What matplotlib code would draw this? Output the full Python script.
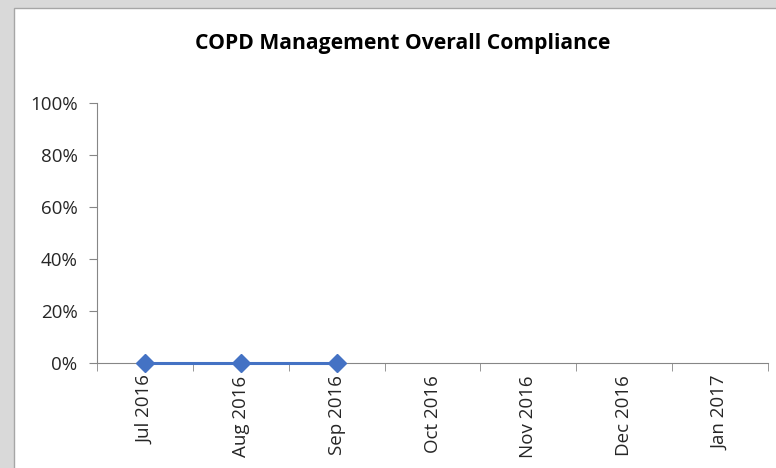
import matplotlib.pyplot as plt
import matplotlib.patches as mpatches
import numpy as np

months = ["Jul 2016", "Aug 2016", "Sep 2016", "Oct 2016", "Nov 2016", "Dec 2016", "Jan 2017"]
compliance = [0.0, 0.0, 0.0, np.nan, np.nan, np.nan, np.nan]
y_ticks = [0, 0.2, 0.4, 0.6, 0.8, 1.0]
y_labels = ["0%", "20%", "40%", "60%", "80%", "100%"]

plt.rcParams['font.family'] = ['Open Sans', 'DejaVu Sans']

fig = plt.figure(figsize=(7.76, 4.68), dpi=100, facecolor='#d9d9d9')
# white chart area with thin border
fig.patches.append(mpatches.Rectangle((14/776, -0.01), 1.0, 1 - 8/468 + 0.01,
                                      transform=fig.transFigure, facecolor='white',
                                      edgecolor='#a6a6a6', linewidth=1.0, zorder=-5))

ax = fig.add_axes([97/776, 1 - 363/468, 671/776, 260/468])
ax.set_zorder(2)
ax.patch.set_alpha(0)

x = np.arange(len(months))
ax.plot(x, compliance, color='#4472C4', linewidth=2.2, marker='D', markersize=9,
        markerfacecolor='#4472C4', markeredgecolor='#4472C4', clip_on=False, zorder=3)

ax.set_xlim(-0.5, len(months) - 0.5)
ax.set_ylim(0, 1)
ax.set_yticks(y_ticks)
ax.set_yticklabels(y_labels)
ax.set_xticks(x)
ax.set_xticklabels(months, rotation=90)
ax.set_xticks(np.arange(-0.5, len(months)), minor=True)

for s in ['top', 'right']:
    ax.spines[s].set_visible(False)
ax.spines['left'].set_color('#868686')
ax.spines['bottom'].set_color('#868686')

ax.tick_params(axis='y', length=6, color='#868686', labelsize=13.5, labelcolor='#262626', pad=8)
ax.tick_params(axis='x', which='major', length=0, labelsize=13.5, labelcolor='#262626', pad=9)
ax.tick_params(axis='x', which='minor', length=6, color='#868686')

fig.text(403/776, 1 - 43/468, "COPD Management Overall Compliance", ha='center', va='center',
         fontsize=15.2, fontweight='bold', color='black')

fig.savefig('out.png', dpi=100, facecolor=fig.get_facecolor())
